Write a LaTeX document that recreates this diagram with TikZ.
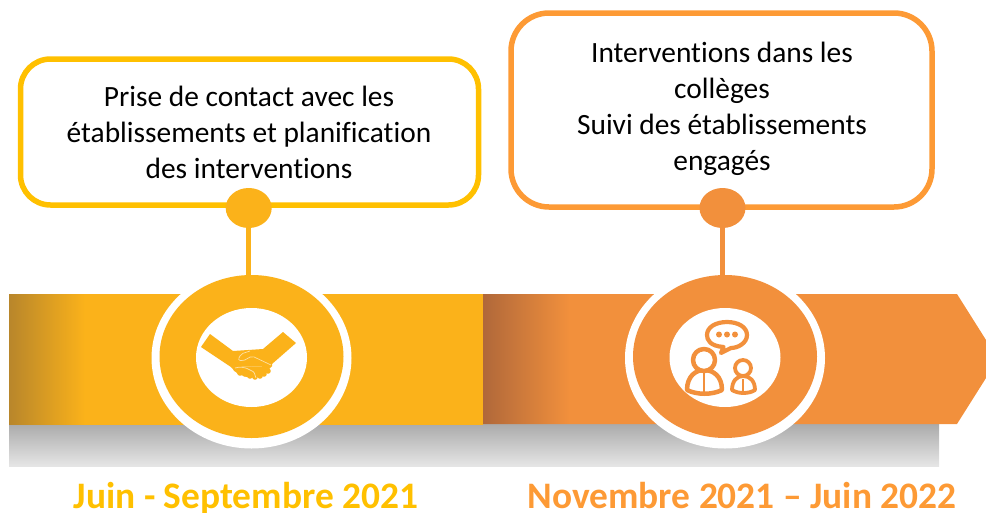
\documentclass[tikz,border=0pt]{standalone}
\usepackage{fontspec}
\setmainfont[Ligatures=NoCommon]{Carlito}
\usetikzlibrary{shapes.geometric}
\definecolor{yelband}{HTML}{FBB21A}
\definecolor{yelbox}{HTML}{FFC000}
\definecolor{yelshade}{HTML}{B8862B}
\definecolor{orgband}{HTML}{F2903C}
\definecolor{orgbox}{HTML}{FD9A35}
\definecolor{orgshade}{HTML}{B0683A}
\pgfdeclarehorizontalshading{yelgrad}{100bp}{color(0bp)=(yelshade); color(25bp)=(yelshade); color(33bp)=(yelband); color(100bp)=(yelband)}
\pgfdeclarehorizontalshading{orggrad}{100bp}{color(0bp)=(orgshade); color(25bp)=(orgshade); color(33.4bp)=(orgband); color(100bp)=(orgband)}
\tikzset{
  callout/.style={draw=#1,line width=5.5pt,fill=white,rounded corners=30pt},
  bodytext/.style={align=center,inner sep=0pt,text=black,font=\fontsize{29.4}{36}\selectfont},
  datelabel/.style={inner sep=0pt,font=\fontsize{37.4}{40}\bfseries\selectfont,text=#1},
  dot/.style={ellipse,fill=#1,minimum width=46pt,minimum height=40pt,inner sep=0pt,outer sep=0pt},
  halo/.style={ellipse,fill=white,minimum width=200pt,minimum height=181pt,inner sep=0pt,outer sep=0pt},
  disc/.style={ellipse,fill=#1,minimum width=184pt,minimum height=163pt,inner sep=0pt,outer sep=0pt},
  hole/.style={ellipse,fill=white,minimum width=111pt,minimum height=99pt,inner sep=0pt,outer sep=0pt},
  stem/.style={draw=#1,line width=5pt},
  iconline/.style={draw=orgband,fill=white,line join=round}
}
\begin{document}
\begin{tikzpicture}[x=1pt,y=-1pt]
\useasboundingbox (0,0) rectangle (986,512);
\clip (0,0) rectangle (986,512);
% shadow
\shade[top color=black!33,bottom color=black!10] (9,424) rectangle (939,466);
% band
\shade[shading=yelgrad] (9,294) rectangle (483,424);
\shade[shading=orggrad] (483,294) -- (957,294) -- (998,359) -- (957,424) -- (483,424) -- cycle;
% callouts
\node[callout=yelbox,minimum width=458pt,minimum height=146pt,inner sep=0pt] (box1) at (249.5,132) {};
\node[callout=orgbox,minimum width=421pt,minimum height=194pt,inner sep=0pt,rounded corners=38pt] (box2) at (721.5,110) {};
\node[bodytext] (text1) at (249,132) {Prise de contact avec les\\établissements et planification\\des interventions};
\node[bodytext] (text2) at (722,109) {Interventions dans les\\collèges\\Suivi des établissements\\engagés};
% discs
\node[halo] (halo1) at (251.5,358) {};
\node[halo] (halo2) at (725,358) {};
\node[dot=yelband] (dot1) at (248.7,208) {};
\node[dot=orgband] (dot2) at (722.5,208) {};
\node[disc=yelband] (disc1) at (251.5,356.5) {};
\node[disc=orgband] (disc2) at (725,356.5) {};
\draw[stem=yelband] (dot1) -- (dot1 |- disc1.north);
\draw[stem=orgband] (dot2) -- (dot2 |- disc2.north);
\node[hole] (hole1) at (251.5,357.5) {};
\node[hole] (hole2) at (725,357.5) {};
% handshake
\fill[yelband,line join=round] (210,334) -- (201,347) -- (231,367) -- (272,366) -- (272,364) -- (296,343) -- (283,332) -- (263,349) -- (233,351) -- cycle;
\fill[yelband] (231,367) -- (238,374) -- (250,378) -- (262,376) -- (272,366) -- cycle;
\foreach \px/\py in {236/369, 240/373, 245/374, 250/376, 255/377, 260/376, 264/374, 268/371}
  \fill[yelband] (\px,\py) circle (2.8pt);
\draw[white!60!yelband,line width=0.7pt,rounded corners=2pt] (250,351) -- (241,354) -- (238,360) -- (243,361) -- (252,356) -- (271,365);
\draw[white!60!yelband,line width=0.7pt,rounded corners=1pt] (235,368) -- (240,367) -- (246,368) -- (254,372) -- (256,378);
% people
\draw[iconline,line width=4.2pt] (723.5,347) .. controls (710,346) and (707,340) .. (707,335) .. controls (707,327) and (716,322) .. (727,322) .. controls (738,322) and (747,327) .. (747,335) .. controls (747,343) and (738,348) .. (731,348) -- (721,353) -- cycle;
\fill[orgband] (719,334.5) circle (3pt) (727,334.5) circle (3pt) (735,334.5) circle (3pt);
\draw[iconline,line width=4.5pt] (687,390) .. controls (687,376) and (696,370) .. (704,370) .. controls (713,370) and (722,376) .. (722,390) .. controls (712,395) and (697,395) .. (687,390) -- cycle;
\draw[iconline,line width=4.5pt] (704,360) circle (11pt);
\draw[draw=orgband,line width=2.6pt] (704,372) -- (704,393);
\draw[iconline,line width=3.8pt] (732,390) .. controls (732,381) and (737,376) .. (743,376) .. controls (750,376) and (755,381) .. (755,390) .. controls (749,394) and (738,394) .. (732,390) -- cycle;
\draw[iconline,line width=3.8pt] (743,368) circle (8pt);
\draw[draw=orgband,line width=2pt] (743,379) -- (743,392);
% dates
\node[datelabel=yelbox,anchor=base] (date1) at (246,508.5) {Juin - Septembre 2021};
\node[datelabel=orgbox,anchor=base] (date2) at (742,508.5) {Novembre 2021 – Juin 2022};
\end{tikzpicture}
\end{document}
